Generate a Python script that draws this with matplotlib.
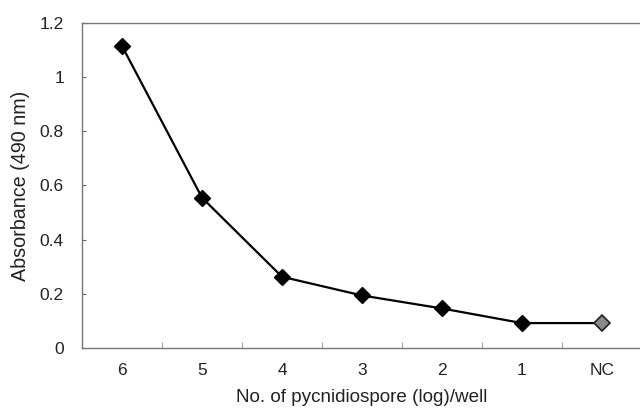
import matplotlib.pyplot as plt
import numpy as np

plt.rcParams['font.family'] = ['Liberation Sans', 'DejaVu Sans']

# spore dilutions (log/well) and measured absorbance
categories = ["6", "5", "4", "3", "2", "1", "NC"]
absorbance = [1.115, 0.555, 0.263, 0.194, 0.146, 0.092, 0.092]

x = np.arange(len(categories)) + 0.5

fig = plt.figure(figsize=(6.4, 4.12), dpi=100)
ax = fig.add_axes([82/640, 1 - 348/412, 560/640, 325/412])

ax.plot(x, absorbance, color="black", lw=1.6, zorder=2)
ax.plot(x[:-1], absorbance[:-1], "D", ms=8, mfc="black", mec="black", zorder=3)
ax.plot(x[-1:], absorbance[-1:], "D", ms=8, mfc="#8a8a8a", mec="#222222", mew=1.2, zorder=3)

ax.set_xlim(0, 7)
ax.set_ylim(0, 1.2)
ax.set_yticks([0, 0.2, 0.4, 0.6, 0.8, 1.0, 1.2])
ax.set_yticklabels(["0", "0.2", "0.4", "0.6", "0.8", "1", "1.2"])
ax.set_xticks(x)
ax.set_xticklabels(categories)
ax.set_xticks(np.arange(1, 7), minor=True)

ax.tick_params(axis="x", which="major", length=0, pad=11, labelsize=12.5, colors="#222222")
ax.tick_params(axis="x", which="minor", length=4, direction="in", color="#888888")
ax.tick_params(axis="y", length=3, direction="in", pad=13, labelsize=12.5, color="#666666", labelcolor="#222222")

for side in ["left", "bottom", "top"]:
    ax.spines[side].set_color("#777777")
    ax.spines[side].set_linewidth(1.0)
ax.spines["right"].set_visible(False)

ax.set_xlabel("No. of pycnidiospore (log)/well", fontsize=13.6, color="#222222", labelpad=8)
ax.set_ylabel("Absorbance (490 nm)", fontsize=14.2, color="#222222", labelpad=7)

fig.savefig("out.png", dpi=100)
